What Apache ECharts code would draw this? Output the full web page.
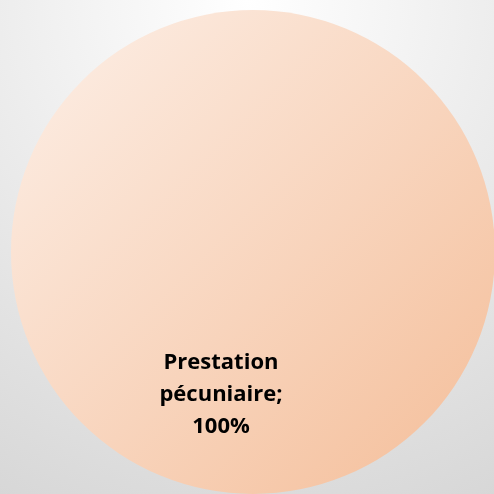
<!DOCTYPE html>
<html><head><meta charset="utf-8">
<script src="https://cdn.jsdelivr.net/npm/echarts@6/dist/echarts.min.js"></script>
<style>html,body{margin:0;padding:0;}#c{width:494px;height:494px;}</style>
</head><body><div id="c"></div>
<script>
const categories = ["Prestation pécuniaire"];
const values = [100];

const chart = echarts.init(document.getElementById('c'), null, {renderer:'canvas'});
chart.setOption({
  animation: false,
  backgroundColor: {type:'radial', x:0.5, y:0.0, r:1.15, colorStops:[{offset:0,color:'#ffffff'},{offset:1,color:'#d6d6d6'}]},
  series: [{
    type: 'pie',
    center: [253, 252],
    radius: 242,
    startAngle: 90,
    silent: true,
    itemStyle: {
      color: {type:'linear', x:0, y:0, x2:1, y2:1, colorStops:[{offset:0,color:'#fdf0e8'},{offset:1,color:'#f4bd98'}]}
    },
    label: {
      show: true,
      position: 'inside',
      offset: [-32, 19],
      formatter: p => 'Prestation\npécuniaire;\n' + p.percent + '%',
      fontFamily: 'Open Sans',
      fontWeight: 'bold',
      fontSize: 22,
      lineHeight: 32,
      color: '#000',
      align: 'center'
    },
    labelLine: {show:false},
    data: categories.map((c,i)=>({name:c, value:values[i]}))
  }]
});
</script></body></html>
